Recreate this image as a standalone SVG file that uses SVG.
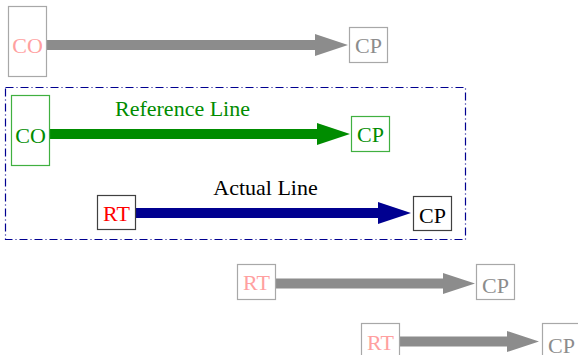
<svg xmlns="http://www.w3.org/2000/svg" width="578" height="355" viewBox="0 0 578 355">
<style>
text{font-family:"Liberation Serif","Times New Roman",serif;font-size:22px;text-anchor:middle}
.gbox{fill:none;stroke:#a8a8a8;stroke-width:1.2}
.pink{fill:#ffa0a0}
.gtxt{fill:#8c8c8c}
.ga{fill:#8c8c8c}
</style>
<rect x="5.5" y="87.5" width="460" height="152" fill="none" stroke="#000090" stroke-width="1.2" stroke-dasharray="8,3,1,3"/>
<g id="connectors">
<polygon class="ga" points="46,40 315,40 315,34 348,45 315,56 315,50 46,50"/>
<polygon fill="#008c00" points="49,129 317,129 317,123 350,134 317,145 317,139 49,139"/>
<polygon fill="#000090" points="135,208 378,208 378,202 411,213 378,224 378,218 135,218"/>
<polygon class="ga" points="275,278.5 443,278.5 443,273 475,283.5 443,294 443,288.5 275,288.5"/>
<polygon class="ga" points="399,336.5 507,336.5 507,331 539,341.5 507,352 507,346.5 399,346.5"/>
<text x="182.5" y="116" fill="#008c00">Reference Line</text>
<text x="265.5" y="195" fill="#000000">Actual Line</text>
</g>
<g id="co1"><rect class="gbox" x="8.5" y="6.5" width="38" height="70"/><text class="pink" x="27.5" y="53">CO</text></g>
<g id="cp1"><rect class="gbox" x="349.5" y="27.5" width="38" height="35"/><text class="gtxt" x="368.5" y="53">CP</text></g>
<g id="co2"><rect x="11.5" y="95.5" width="38" height="70" fill="none" stroke="#40b040" stroke-width="1.2"/><text x="30.5" y="143" fill="#008c00">CO</text></g>
<g id="cp2"><rect x="351.5" y="116.5" width="38" height="35" fill="none" stroke="#40b040" stroke-width="1.2"/><text x="370.5" y="142" fill="#008c00">CP</text></g>
<g id="rt1"><rect x="97.5" y="195.5" width="38" height="34" fill="none" stroke="#404040" stroke-width="1.2"/><text x="116.5" y="221" fill="#ff0000">RT</text></g>
<g id="cp3"><rect x="413.5" y="196.5" width="38" height="34" fill="none" stroke="#404040" stroke-width="1.2"/><text x="432.5" y="223" fill="#000000">CP</text></g>
<g id="rt2"><rect class="gbox" x="237.5" y="264.5" width="38" height="35"/><text class="pink" x="256.5" y="290">RT</text></g>
<g id="cp4"><rect class="gbox" x="476.5" y="264.5" width="38" height="35"/><text class="gtxt" x="495.5" y="293">CP</text></g>
<g id="rt3"><rect class="gbox" x="361.5" y="323.5" width="38" height="35"/><text class="pink" x="380.5" y="350">RT</text></g>
<g id="cp5"><rect class="gbox" x="542.5" y="323.5" width="38" height="35"/><text class="gtxt" x="561.5" y="353">CP</text></g>
</svg>
